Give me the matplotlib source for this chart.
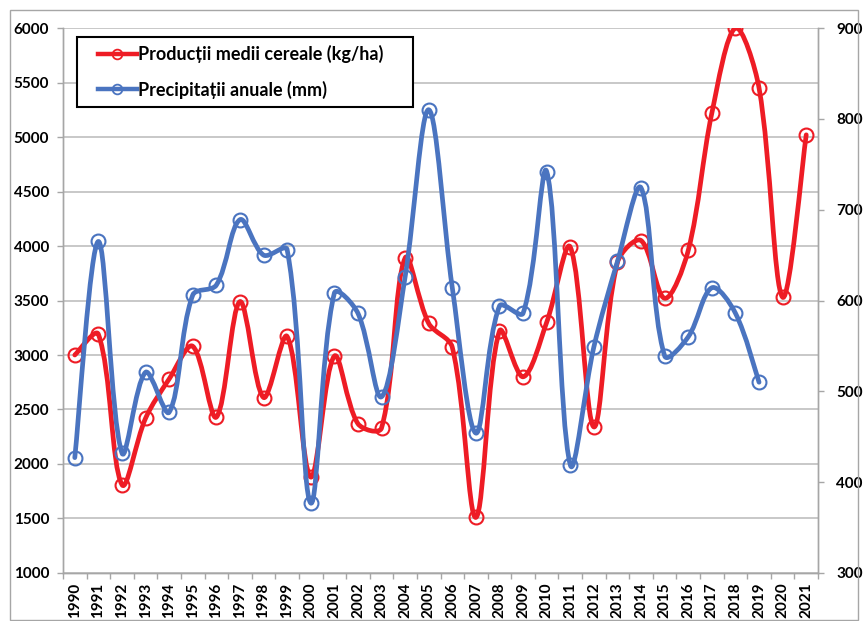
import numpy as np
import matplotlib.pyplot as plt
from matplotlib.path import Path
from matplotlib.patches import PathPatch, Rectangle
from matplotlib.lines import Line2D
from matplotlib.legend_handler import HandlerLine2D

plt.rcParams['font.family'] = ['Lato', 'DejaVu Sans']

years = list(range(1990, 2022))
productie = [3000, 3190, 1810, 2420, 2780, 3080, 2430, 3490, 2610, 3170,
             1880, 2990, 2370, 2330, 3890, 3290, 3070, 1510, 3220, 2800,
             3300, 3990, 2340, 3850, 4050, 3520, 3960, 5220, 6000, 5450,
             3530, 5020]
precip = [427, 665, 432, 521, 477, 606, 617, 689, 650, 656,
          377, 608, 586, 494, 626, 810, 614, 454, 594, 586,
          742, 419, 549, 643, 724, 539, 560, 614, 586, 510]

RED = '#EE1C25'
BLUE = '#4A74C0'


def smooth_path(x, y, sx, sy):
    # excel-like smoothed line: bezier with tangents weighted by
    # segment lengths on screen (sx, sy = pixels per data unit)
    x = np.asarray(x, float)
    y = np.asarray(y, float)
    px, py = x * sx, y * sy
    n = len(x)

    def dist(i, j):
        return np.hypot(px[j] - px[i], py[j] - py[i])

    verts = [(x[0], y[0])]
    codes = [Path.MOVETO]
    for i in range(n - 1):
        i0 = max(i - 1, 0)
        i3 = min(i + 2, n - 1)
        d01, d12, d23 = dist(i0, i), dist(i, i + 1), dist(i + 1, i3)
        f1 = d12 / (d01 + d12) / 3 if d01 > 0 else 1 / 6
        f2 = d12 / (d12 + d23) / 3 if d23 > 0 else 1 / 6
        c1 = (x[i] + (x[i + 1] - x[i0]) * f1, y[i] + (y[i + 1] - y[i0]) * f1)
        c2 = (x[i + 1] - (x[i3] - x[i]) * f2, y[i + 1] - (y[i3] - y[i]) * f2)
        verts += [c1, c2, (x[i + 1], y[i + 1])]
        codes += [Path.CURVE4] * 3
    return Path(verts, codes)


fig = plt.figure(figsize=(8.64, 6.21), dpi=100)
ax = fig.add_axes([0.0729, 0.0773, 0.8739, 0.8776])
ax2 = ax.twinx()

ax.set_xlim(-0.5, len(years) - 0.5)
ax.set_ylim(1000, 6000)
ax2.set_ylim(300, 900)

# pixels per unit for the smoothing
sx = 755 / len(years)
sy1 = 545 / 5000
sy2 = 545 / 600

xp = np.arange(len(productie))
xb = np.arange(len(precip))

ax.add_patch(PathPatch(smooth_path(xp, productie, sx, sy1), fill=False,
                       edgecolor=RED, lw=3.4, capstyle='round',
                       joinstyle='round', zorder=3))
ax.plot(xp, productie, ls='none', marker='o', ms=10, mfc='none', mec=RED,
        mew=1.5, zorder=4)

ax2.add_patch(PathPatch(smooth_path(xb, precip, sx, sy2), fill=False,
                        edgecolor=BLUE, lw=3.4, capstyle='round',
                        joinstyle='round', zorder=3))
ax2.plot(xb, precip, ls='none', marker='o', ms=10, mfc='none', mec=BLUE,
         mew=1.5, zorder=4)

ax.set_yticks(range(1000, 6001, 500))
ax2.set_yticks(range(300, 901, 100))

ax.set_xticks(np.arange(len(years)))
ax.set_xticklabels([str(y) for y in years], rotation=90, fontweight='bold',
                   fontsize=11)
ax.set_xticks(np.arange(len(years) + 1) - 0.5, minor=True)
ax.tick_params(axis='x', which='major', length=0, pad=7)
ax.tick_params(axis='x', which='minor', length=4, color='#A6A6A6', width=1)
ax.tick_params(axis='y', length=4, color='#A6A6A6', width=1, labelsize=11, pad=6)
ax2.tick_params(axis='y', length=4, color='#A6A6A6', width=1, labelsize=11, pad=9)
for lab in ax.get_yticklabels() + ax2.get_yticklabels():
    lab.set_fontweight('bold')

ax.grid(axis='y', color='#BFBFBF', lw=1.2)
ax.set_axisbelow(True)
for a in (ax, ax2):
    a.spines['top'].set_visible(False)
    for s in ('left', 'right', 'bottom'):
        a.spines[s].set_color('#A6A6A6')
        a.spines[s].set_linewidth(1)

# legend: line handle pushed right a bit, box width fixed like in excel
handles = [
    Line2D([], [], color=RED, lw=3.2, marker='o', ms=7, mfc='none', mec=RED, mew=1.3),
    Line2D([], [], color=BLUE, lw=3.2, marker='o', ms=7, mfc='none', mec=BLUE, mew=1.3),
]
hmap = {h: HandlerLine2D(xpad=0.7) for h in handles}
leg = ax2.legend(handles, ['Producții medii cereale (kg/ha)', 'Precipitații anuale (mm)'],
                 loc='upper left', bbox_to_anchor=(0.0185, 0.7835, 0.445, 0.2),
                 mode='expand', handler_map=hmap, fancybox=False,
                 framealpha=1, edgecolor='black', handlelength=2.87,
                 handletextpad=0.05, borderpad=0.46, labelspacing=0.95,
                 borderaxespad=0, prop={'weight': 'bold', 'size': 13})
leg.get_frame().set_linewidth(1.5)

fig.patches.append(Rectangle((10 / 864, 0.002), 848 / 864, 1 - 10 / 621 - 0.002,
                             transform=fig.transFigure, fill=False,
                             edgecolor='#A6A6A6', lw=1))

fig.savefig('out.png', dpi=100)
